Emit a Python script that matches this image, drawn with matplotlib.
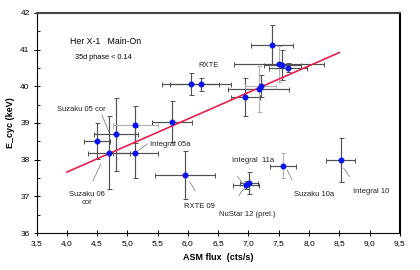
import matplotlib
matplotlib.use("Agg")
import matplotlib.pyplot as plt
from matplotlib.ticker import MultipleLocator, FuncFormatter

plt.rcParams['font.family'] = ['Liberation Sans', 'DejaVu Sans']

# ---- data ----
flux   = [4.50, 4.70, 4.81, 5.13, 5.13, 5.73, 5.95, 6.05, 6.21, 6.96, 7.01,
          6.95, 7.17, 7.20, 7.39, 7.50, 7.56, 7.65, 7.57, 8.52]
ecyc   = [38.51, 38.19, 38.69, 38.95, 38.19, 39.04, 37.59, 40.07, 40.05, 37.31, 37.36,
          39.72, 39.93, 40.00, 41.13, 40.61, 40.59, 40.51, 37.83, 37.99]
flux_err = [0.22, 0.35, 0.36, 0.37, 0.37, 0.33, 0.49, 0.47, 0.50, 0.22, 0.15,
            0.24, 0.50, 0.25, 0.35, 0.74, 0.30, 0.31, 0.22, 0.24]
ecyc_err = [0.50, 1.00, 1.00, 0.50, 0.70, 0.55, 0.65, 0.30, 0.18, 0.12, 0.30,
            0.52, 0.63, 0.30, 0.54, 0.48, 0.41, 0.12, 0.34, 0.60]
xbar_shade = ['d', 'd', 'd', 'l', 'd', 'd', 'd', 'd', 'd', 'd', 'd',
              'd', 'd', 'l', 'd', 'd', 'd', 'd', 'd', 'd']
ybar_shade = ['d', 'd', 'd', 'd', 'd', 'd', 'd', 'd', 'd', 'd', 'd',
              'd', 'l', 'd', 'd', 'l', 'd', 'd', 'l', 'd']

fit_x = [4.0, 8.5]
fit_y = [37.66, 40.92]

labels = ["Suzaku 05 cor", "Integral 05a", "Suzaku 06\ncor", "RXTE 09", "RXTE",
          "Integral  11a", "NuStar 12 (prel.)", "Suzaku 10a", "Integral 10"]
label_pos = [(3.84, 39.38), (5.37, 38.40), (4.34, 36.94), (5.94, 36.71), (6.17, 40.56),
             (6.73, 37.98), (6.52, 36.51), (7.76, 37.06), (8.73, 37.13)]
label_ha = ['left', 'left', 'center', 'left', 'left', 'left', 'left', 'left', 'left']
leaders = [((4.58, 39.22), (4.69, 38.77)),
           ((5.33, 38.43), (5.18, 38.25)),
           ((4.43, 37.42), (4.56, 37.88)),
           ((6.03, 37.39), (6.12, 37.15)),
           None,
           ((6.82, 37.54), (6.92, 37.33)),
           ((6.84, 37.02), (6.94, 37.24)),
           ((7.64, 37.72), (7.72, 37.45)),
           ((8.57, 37.77), (8.67, 37.54))]

xticks = [3.5, 4.0, 4.5, 5.0, 5.5, 6.0, 6.5, 7.0, 7.5, 8.0, 8.5, 9.0, 9.5]
yticks = [36, 37, 38, 39, 40, 41, 42]

shade_col = {'d': '#505050', 'l': '#b4b4b4'}

# ---- figure ----
fig = plt.figure(figsize=(4.2, 2.7), dpi=100)
ax = fig.add_axes([0.087, 0.137, 0.865, 0.815])

for i in range(len(flux)):
    ax.errorbar(flux[i], ecyc[i], xerr=flux_err[i], fmt='none',
                ecolor=shade_col[xbar_shade[i]], elinewidth=0.85, capsize=1.8,
                capthick=0.7, zorder=2)
    ax.errorbar(flux[i], ecyc[i], yerr=ecyc_err[i], fmt='none',
                ecolor=shade_col[ybar_shade[i]], elinewidth=0.85, capsize=1.8,
                capthick=0.7, zorder=2)

ax.plot(fit_x, fit_y, color='#e8204a', lw=1.2, zorder=3)
ax.plot(flux, ecyc, 'o', color='#0a14f0', ms=3.3, mec='#0a14f0', zorder=4)

for lab, pos, ha, ld in zip(labels, label_pos, label_ha, leaders):
    ax.text(pos[0], pos[1], lab, fontsize=5.5, ha=ha, va='center',
            color='#222222', linespacing=1.3)
    if ld is not None:
        ax.plot([ld[0][0], ld[1][0]], [ld[0][1], ld[1][1]], color='#888888', lw=0.6)

ax.text(4.05, 41.21, "Her X-1   Main-On", fontsize=6.3, ha='left', va='center')
ax.text(4.14, 40.78, "35d phase < 0.14", fontsize=5.3, ha='left', va='center')

ax.set_xlim(3.5, 9.5)
ax.set_ylim(36, 42)
ax.set_xticks(xticks)
ax.set_yticks(yticks)
ax.xaxis.set_major_formatter(FuncFormatter(lambda v, p: f"{v:.1f}".replace('.', ',')))
ax.yaxis.set_major_formatter(FuncFormatter(lambda v, p: f"{v:.0f}"))
ax.yaxis.set_minor_locator(MultipleLocator(0.5))
ax.tick_params(axis='both', which='major', direction='inout', length=4, width=0.7,
               labelsize=6, pad=3)
ax.tick_params(axis='y', which='minor', direction='in', length=2, width=0.6)
ax.tick_params(top=False, right=False)

ax.set_xlabel("ASM flux  (cts/s)", fontsize=6.5, fontweight='bold', labelpad=4)
ax.set_ylabel("E_cyc (keV)", fontsize=6.5, fontweight='bold', labelpad=4)

for s in ['left', 'bottom']:
    ax.spines[s].set_linewidth(0.8)
ax.spines['top'].set_linewidth(1.5)
ax.spines['top'].set_color('#444444')
ax.spines['right'].set_linewidth(1.5)

fig.savefig("out.png", dpi=100)
